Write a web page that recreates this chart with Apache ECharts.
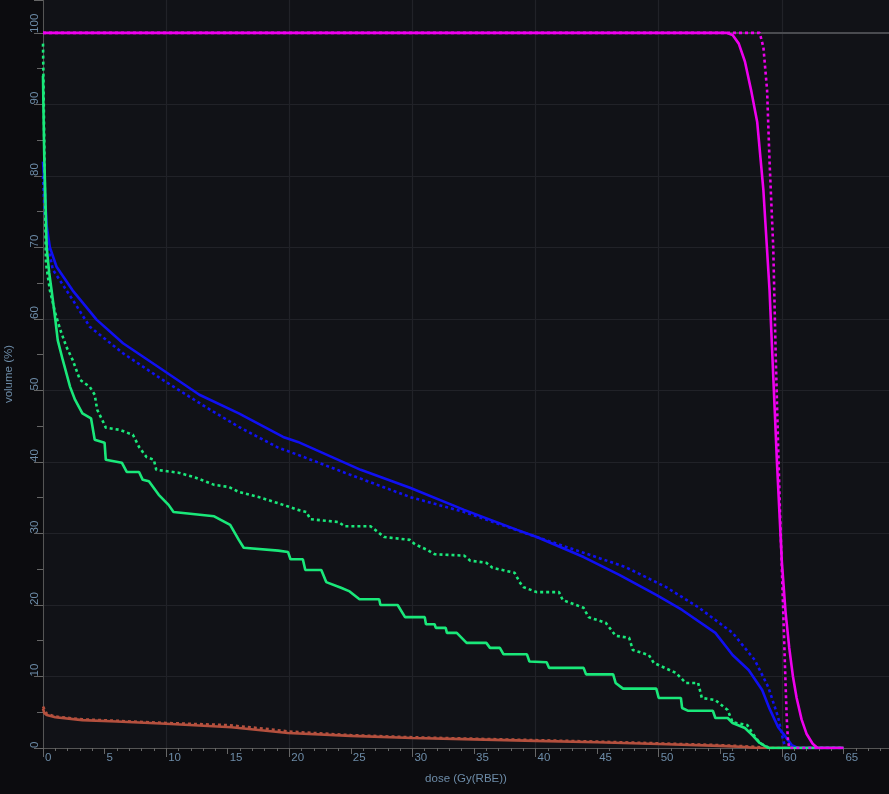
<!DOCTYPE html>
<html>
<head>
<meta charset="utf-8">
<script src="https://cdn.jsdelivr.net/npm/echarts@6/dist/echarts.min.js"></script>
<style>
  html, body { margin: 0; padding: 0; background: #0c0c0f; }
  #chart { width: 889px; height: 794px; }
</style>
</head>
<body>
<div id="chart"></div>
<script>
// dose (Gy(RBE)) / volume (%) pairs
const magentaSolid = [[0, 100], [55.5, 100], [56, 99.7], [56.5, 98.5], [57, 96], [57.5, 92], [58, 87.5], [58.5, 78], [59, 64], [59.3, 52], [59.6, 40], [59.8, 33], [60.0, 26], [60.3, 19], [60.6, 14], [60.9, 10], [61.2, 7], [61.6, 4], [62.0, 2], [62.5, 0.6], [62.9, 0], [65, 0]]
const magentaDotted = [[0, 100], [58.2, 100], [58.5, 98], [58.8, 92], [59.0, 82], [59.3, 70], [59.5, 55], [59.7, 42], [59.85, 33], [60.0, 25], [60.15, 17], [60.3, 9], [60.4, 4], [60.5, 1], [60.6, 0], [65, 0]]

const blueSolid = [[0, 82], [0.1, 79.4], [0.3, 73], [0.56, 70], [1.1, 67.3], [2.4, 64], [4.35, 59.9], [6.5, 56.6], [9.7, 52.9], [12.7, 49.4], [15.9, 46.8], [19.5, 43.5], [20.7, 42.8], [25.8, 38.9], [29.8, 36.4], [34.2, 33.3], [38.5, 30.5], [40.1, 29.5], [43.9, 26.7], [46.8, 24.2], [49.8, 21.4], [51.9, 19.3], [54.6, 16.1], [56.0, 13.0], [57.3, 10.9], [58.4, 8.1], [59.0, 5.5], [59.7, 2.9], [60.2, 1.8], [60.8, 0.4], [61.3, 0], [65, 0]]
const blueDotted = [[0, 80], [0.1, 76], [0.3, 71], [0.8, 66.9], [2.4, 62.7], [3.8, 58.9], [6.5, 55.2], [9.7, 51.5], [13.2, 47.7], [15.9, 44.9], [19.1, 42.0], [20.7, 41.0], [24.5, 38.5], [29.8, 35.1], [34.2, 33.0], [40.1, 29.5], [43.9, 27.3], [47.3, 25.3], [50.6, 22.5], [53.2, 19.7], [56.0, 16.1], [57.8, 12.3], [58.9, 8.5], [59.7, 4.3], [60.1, 1.1], [60.3, 0], [65, 0]]

const greenSolid = [[0, 94], [0.05, 88], [0.1, 83], [0.16, 79], [0.3, 70], [0.5, 66.5], [0.7, 64], [1.0, 59.9], [1.2, 57], [1.6, 54.3], [2.2, 50.5], [2.6, 48.7], [3.2, 46.8], [3.9, 46.1], [4.2, 43.1], [5.0, 42.7], [5.1, 40.3], [6.4, 39.9], [6.8, 38.6], [7.8, 38.6], [8.1, 37.5], [8.6, 37.3], [9.4, 35.4], [10.2, 34], [10.6, 33], [13.9, 32.4], [15.2, 31.2], [15.9, 29.1], [16.3, 28], [19.1, 27.6], [19.9, 27.4], [20.1, 26.4], [21.1, 26.4], [21.3, 24.9], [22.6, 24.9], [23.0, 23.2], [24.2, 22.4], [24.9, 21.9], [25.7, 20.8], [27.3, 20.8], [27.4, 20.0], [28.8, 20.0], [29.4, 18.3], [31.0, 18.3], [31.1, 17.3], [31.8, 17.3], [31.9, 16.8], [32.7, 16.8], [32.8, 16.1], [33.6, 16.1], [34.4, 14.7], [36.0, 14.7], [36.3, 14.0], [37.1, 14.0], [37.4, 13.1], [39.3, 13.1], [39.5, 12.1], [40.9, 12.0], [41.1, 11.2], [43.9, 11.2], [44.1, 10.3], [46.3, 10.3], [46.5, 9.1], [47.1, 8.3], [49.8, 8.3], [50.0, 7.0], [51.8, 7.0], [51.9, 5.6], [52.4, 5.2], [54.4, 5.2], [54.6, 4.2], [55.6, 4.2], [56.0, 3.5], [57.0, 2.8], [57.6, 1.8], [58.2, 0.7], [58.9, 0], [65, 0]]
const greenDotted = [[0, 98.5], [0.05, 92], [0.1, 85], [0.15, 78], [0.24, 67.8], [0.56, 64], [1.0, 60.8], [1.4, 58.5], [1.9, 56.1], [2.4, 54.3], [3.0, 51.5], [3.8, 50.5], [4.2, 49.4], [4.4, 47.3], [5.0, 45.2], [5.1, 44.8], [6.2, 44.5], [7.3, 43.8], [7.8, 42.1], [8.4, 40.7], [9.0, 40.3], [9.2, 38.9], [11.0, 38.5], [12.4, 37.8], [13.9, 36.8], [15.1, 36.5], [15.9, 35.8], [17.5, 35.1], [19.5, 34.0], [20.7, 33.3], [21.4, 33.0], [21.7, 32.0], [24.0, 31.6], [24.5, 31.0], [26.6, 31.0], [27.2, 30.2], [27.7, 29.5], [29.8, 29.1], [30.2, 28.5], [31.2, 27.7], [31.8, 27.1], [34.2, 26.9], [34.7, 26.2], [36.0, 25.9], [36.5, 25.2], [38.3, 24.5], [38.7, 23.2], [39.0, 22.5], [40.1, 21.8], [41.9, 21.8], [42.2, 20.7], [43.9, 19.6], [44.3, 18.3], [45.7, 17.5], [46.5, 15.7], [47.6, 15.4], [47.9, 13.7], [49.2, 13.0], [49.6, 11.9], [51.4, 10.5], [52.2, 9.1], [53.2, 9.1], [53.5, 7.0], [54.6, 6.7], [55.6, 5.3], [56.0, 3.6], [57.2, 3.2], [57.6, 2.1], [58.2, 0.7], [59.0, 0], [65, 0]]

const brownSolid = [[0, 5.5], [0.1, 4.9], [0.3, 4.6], [1, 4.3], [3.2, 3.9], [6, 3.7], [10, 3.4], [15.3, 2.9], [19.9, 2.1], [25, 1.7], [30, 1.4], [35, 1.2], [40, 1.0], [45, 0.8], [50, 0.55], [55, 0.3], [57, 0.15], [58, 0], [65, 0]]
const brownDotted = [[0, 5.8], [0.3, 4.8], [1, 4.4], [3.2, 4.0], [6, 3.8], [10, 3.5], [15, 3.2], [18, 2.7], [20, 2.3], [25, 1.8], [30, 1.5], [35, 1.3], [40, 1.1], [45, 0.9], [50, 0.65], [55, 0.4], [57.5, 0.2], [59, 0], [65, 0]]

const doseMax = 68.7
const volumeMax = 104.6

const labelColor = '#6d8ca8'
const fontFamily = '"Liberation Sans", Arial, sans-serif'

function line(name, data, color, dotted, z) {
  return {
    name: name,
    type: 'line',
    data: data,
    showSymbol: false,
    symbol: 'none',
    z: z,
    lineStyle: {
      color: color,
      width: 2.6,
      type: dotted ? [3, 3] : 'solid'
    }
  }
}

const chart = echarts.init(document.getElementById('chart'))

const option = {
  backgroundColor: '#0c0c0f',
  animation: false,
  textStyle: { fontFamily: fontFamily },
  grid: {
    show: true,
    left: 43,
    right: 0,
    top: 0,
    bottom: 46,
    outerBoundsMode: 'none',
    containLabel: false,
    backgroundColor: '#111217',
    borderWidth: 0
  },
  xAxis: [{
    type: 'value',
    min: 0,
    max: doseMax,
    interval: 5,
    name: 'dose (Gy(RBE))',
    nameLocation: 'middle',
    nameGap: 25,
    nameTextStyle: { color: labelColor, fontSize: 11.5 },
    axisLine: { show: true, lineStyle: { color: '#555', width: 1 } },
    axisTick: { show: true, length: 6, lineStyle: { color: '#666' } },
    minorTick: { show: true, splitNumber: 5, length: 3, lineStyle: { color: '#666' } },
    axisLabel: {
      color: labelColor,
      fontSize: 11.5,
      align: 'left',
      margin: 4,
      padding: [0, 0, 0, 2],
      showMaxLabel: false
    },
    splitLine: { show: false }
  }, {
    type: 'value',
    min: 0,
    max: doseMax,
    interval: 10,
    position: 'bottom',
    axisLine: { show: false },
    axisTick: { show: true, length: 9, lineStyle: { color: '#666' } },
    axisLabel: { show: false },
    splitLine: { show: true, showMaxLine: false, lineStyle: { color: '#212228', width: 1.2 } }
  }],
  yAxis: {
    type: 'value',
    min: 0,
    max: volumeMax,
    interval: 10,
    name: 'volume (%)',
    nameLocation: 'middle',
    nameGap: 28,
    nameRotate: 90,
    nameTextStyle: { color: labelColor, fontSize: 11.5 },
    axisLine: { show: true, lineStyle: { color: '#555', width: 1 } },
    axisTick: { show: true, length: 9, lineStyle: { color: '#666' } },
    minorTick: { show: true, splitNumber: 2, length: 6, lineStyle: { color: '#666' } },
    axisLabel: {
      color: labelColor,
      fontSize: 11.5,
      rotate: 90,
      align: 'left',
      verticalAlign: 'bottom',
      margin: 2,
      showMaxLabel: false
    },
    splitLine: { show: true, showMaxLine: false, lineStyle: { color: '#212228', width: 1.2 } }
  },
  series: [
    Object.assign(line('rectum plan', brownDotted, '#b4503e', true, 2), {
      markLine: {
        silent: true,
        symbol: 'none',
        label: { show: false },
        lineStyle: { color: '#4a4b50', width: 2, type: 'solid' },
        data: [{ yAxis: 100 }]
      }
    }),
    line('rectum', brownSolid, '#b4503e', false, 2),
    line('bladder plan', blueDotted, '#1010f2', true, 3),
    line('bladder', blueSolid, '#1010f2', false, 3),
    line('femur plan', greenDotted, '#1ae87a', true, 4),
    line('femur', greenSolid, '#1ae87a', false, 4),
    line('PTV plan', magentaDotted, '#ee00ee', true, 5),
    line('PTV', magentaSolid, '#ee00ee', false, 5)
  ]
}

chart.setOption(option)
</script>
</body>
</html>
